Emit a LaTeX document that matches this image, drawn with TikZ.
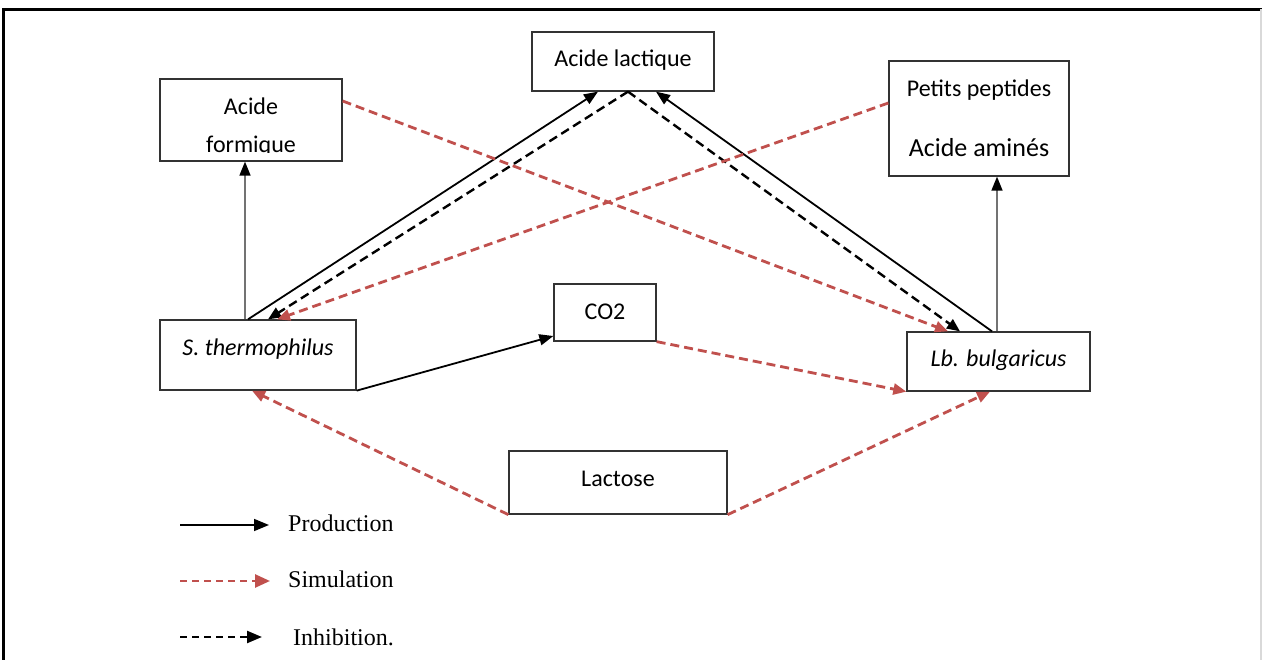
\documentclass[tikz,border=0pt]{standalone}
\usepackage{fontspec}
\setmainfont{Liberation Serif}
\newfontfamily\calfont{Carlito}
\usetikzlibrary{arrows.meta}
\definecolor{simred}{HTML}{C0504D}
\newcommand\bxfont{\calfont\fontsize{24}{29}\selectfont}
\begin{document}
\begin{tikzpicture}[x=1pt,y=-1pt,
  box/.style={draw=black!80, line width=1.3pt, inner sep=0pt, font=\bxfont},
  txt/.style={inner sep=0pt, anchor=base, font=\bxfont},
  prodline/.style={black, line width=1.8pt, -{Triangle[length=14pt,width=11pt]}},
  greyline/.style={black!55, line width=1.6pt, -{Triangle[length=14pt,width=11pt,color=black]}},
  simline/.style={simred, line width=2.8pt, dash pattern=on 9pt off 5pt, -{Triangle[length=13pt,width=11pt]}},
  inhline/.style={black, line width=2.4pt, dash pattern=on 9pt off 5pt, -{Triangle[length=13pt,width=11pt]}},
  legtext/.style={inner sep=0pt, anchor=base west, font=\fontsize{24}{28}\selectfont}
]
\useasboundingbox (0,0) rectangle (1262,660);
% frame
\draw[line width=3.2pt] (3.7,660) -- (3.7,9.2) -- (1262,9.2);
\draw[black!15, line width=1.2pt] (1261,9.2) -- (1261,660);

% boxes
\node[box, minimum width=182pt, minimum height=82pt] (af) at (251,120) {};
\begin{scope}
  \clip (160,79) rectangle (342,152.8);
  \node[txt] (af1) at (251,115) {Acide};
  \node[txt] (af2) at (251,152.7) {formique};
\end{scope}
\node[box, minimum width=182pt, minimum height=59pt, text height=17pt, text depth=6.5pt] (al) at (623,61.5) {Acide lactique};
\node[box, minimum width=180pt, minimum height=115pt] (pp) at (979,118.5) {};
\node[txt] (pp1) at (979,96.7) {Petits peptides};
\node[txt, font=\calfont\fontsize{26}{30}\selectfont] (pp2) at (979,156.7) {Acide aminés};
\node[box, minimum width=196pt, minimum height=70pt, text height=17pt, text depth=15pt] (st) at (258,355) {\itshape S. thermophilus};
\node[box, minimum width=102pt, minimum height=57pt, text height=15.5pt, text depth=0.5pt] (co) at (605,312.5) {CO2};
\node[box, minimum width=183pt, minimum height=59pt, text height=17pt, text depth=6pt] (lb) at (998.5,361.5) {\itshape Lb. bulgaricus};
\node[box, minimum width=218pt, minimum height=63pt, text height=17pt, text depth=8.6pt] (la) at (618,482.5) {Lactose};

% connectors
\draw[greyline] ([xshift=-13pt]st.north) -- ([xshift=-6pt]af.south);
\draw[greyline] ([xshift=-1.5pt]lb.north) -- ([xshift=18pt]pp.south);
\draw[prodline] ([xshift=-10pt]st.north) -- ([xshift=-25pt]al.south);
\draw[prodline] ([xshift=-6.5pt]lb.north) -- ([xshift=33pt]al.south);
\draw[inhline] ([xshift=5pt]al.south) -- ([xshift=10pt]st.north);
\draw[inhline] ([xshift=5pt]al.south) -- ([xshift=-38.5pt]lb.north);
\draw[simline] ([yshift=19pt]af.east) -- ([xshift=-50.5pt]lb.north);
\draw[simline] ([yshift=15.5pt]pp.west) -- ([xshift=19pt]st.north);
\draw[prodline] (st.south east) -- ([yshift=-23.5pt]co.west);
\draw[simline] (co.south east) -- (lb.south west);
\draw[simline] (la.south west) -- ([xshift=-6pt]st.south);
\draw[simline] (la.south east) -- ([xshift=-8.5pt]lb.south);

% legend
\node[legtext] (lg1) at (288,531.7) {Production};
\node[legtext] (lg2) at (288,587) {Simulation};
\node[legtext] (lg3) at (293,645.5) {Inhibition.};
\coordinate (ls1) at (180,525);
\coordinate (ls2) at (180,581);
\coordinate (ls3) at (180,637);
\draw[prodline, line width=1.6pt, -{Triangle[length=15pt,width=12pt]}] (ls1) -- (ls1 -| 269,0);
\draw[simline, line width=2.6pt, dash pattern=on 7pt off 5pt, -{Triangle[length=15pt,width=13pt]}] (ls2) -- (ls2 -| 270,0);
\draw[inhline, line width=2.4pt, dash pattern=on 7pt off 5pt, -{Triangle[length=15pt,width=12pt]}] (ls3) -- (ls3 -| 262,0);
\end{tikzpicture}
\end{document}
